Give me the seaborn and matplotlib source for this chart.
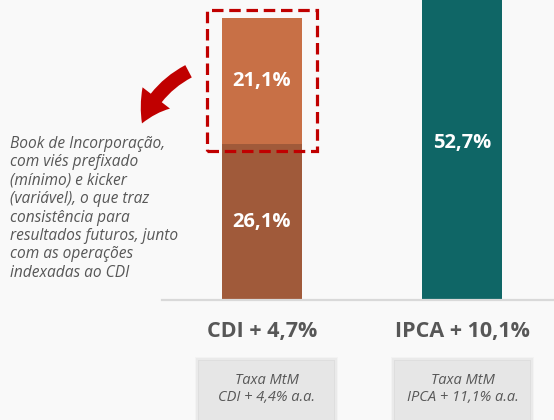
import matplotlib
matplotlib.use("Agg")
import matplotlib.pyplot as plt
import seaborn as sns
import pandas as pd
from matplotlib.patches import Rectangle, FancyArrowPatch

# Data
categories = ["CDI + 4,7%", "IPCA + 10,1%"]
base_share = [26.1, 52.7]       # lower segment / full bar
kicker_share = [21.1, 0.0]      # upper segment (CDI only)
mtm_labels = ["Taxa MtM\nCDI + 4,4% a.a.", "Taxa MtM\nIPCA + 11,1% a.a."]
note_text = ("Book de Incorporação,\ncom viés prefixado\n(mínimo) e kicker\n"
             "(variável), o que traz\nconsistência para\nresultados futuros, junto\n"
             "com as operações\nindexadas ao CDI")

BG = "#f9f9f9"
C_TOP = "#c87046"
C_LOW = "#a05a3a"
C_TEAL = "#0f6666"
TXT = "#575757"

sns.set_theme(style="white")
plt.rcParams["font.family"] = ["Open Sans", "DejaVu Sans"]

fig = plt.figure(figsize=(5.54, 4.2), dpi=100, facecolor=BG)
ax = fig.add_axes([162 / 554, 120 / 420, 1 - 162 / 554, 300 / 420])
ax.set_facecolor(BG)

totals = [b + k for b, k in zip(base_share, kicker_share)]
df_tot = pd.DataFrame({"cat": categories, "val": totals})
df_low = pd.DataFrame({"cat": categories, "val": base_share})

sns.barplot(data=df_tot, x="cat", y="val", hue="cat", palette=[C_TOP, C_TEAL],
            width=0.4, legend=False, ax=ax, saturation=1, linewidth=0)
sns.barplot(data=df_low, x="cat", y="val", hue="cat", palette=[C_LOW, C_TEAL],
            width=0.4, legend=False, ax=ax, saturation=1, linewidth=0)

ax.set_xlim(-0.5, 1.46)
ax.set_ylim(0, 50.2)
ax.set_xticks([])
ax.set_yticks([])
ax.set_xlabel("")
ax.set_ylabel("")
for s in ["top", "right", "left"]:
    ax.spines[s].set_visible(False)
ax.spines["bottom"].set_color("#d9d9d9")
ax.spines["bottom"].set_linewidth(1.6)

# Value labels inside bars
lbl = dict(color="white", fontsize=14.5, fontweight="bold", ha="center", va="center")
ax.text(0, base_share[0] / 2, f"{base_share[0]:.1f}%".replace(".", ","), **lbl)
ax.text(0, base_share[0] + kicker_share[0] / 2,
        f"{kicker_share[0]:.1f}%".replace(".", ","), **lbl)
ax.text(1, base_share[1] / 2, f"{base_share[1]:.1f}%".replace(".", ","), **lbl)

# Dashed highlight around the kicker segment
ax.add_patch(Rectangle((-0.275, base_share[0] - 1.2), 0.55, kicker_share[0] + 2.5,
                       fill=False, edgecolor="#c00000", linewidth=2.3,
                       linestyle=(0, (3.6, 1.8)), clip_on=False, zorder=5))

# Category labels
for i, c in enumerate(categories):
    fig.text((262 + 200 * i) / 554, 1 - 332 / 420, c, ha="center", va="center",
             fontsize=15.5, fontweight="bold", color=TXT)

# MtM rate boxes with soft shadow
for i, t in enumerate(mtm_labels):
    x0 = (199 + 196 * i) / 554
    w = 135 / 554
    y0 = -0.05
    h = 1 - 361 / 420 + 0.05
    for k, a in enumerate([0.025, 0.035, 0.05]):
        d = (3 - k) * 1.3
        fig.add_artist(Rectangle((x0 - d / 554, y0), w + 2 * d / 554, h + d / 420,
                                 facecolor="black", alpha=a, edgecolor="none",
                                 transform=fig.transFigure))
    fig.add_artist(Rectangle((x0, y0), w, h, facecolor="#e6e6e6", edgecolor="none",
                             transform=fig.transFigure))
    fig.text(x0 + w / 2, 1 - 389 / 420, t, ha="center", va="center", fontsize=10.5,
             style="italic", color=TXT, linespacing=1.2)

# Side note
fig.text(10 / 554, 1 - 136 / 420, note_text, ha="left", va="top", fontsize=11.2,
         style="italic", color=TXT, linespacing=1.2)

# Curved red arrow pointing to the note
arrow = FancyArrowPatch((191 / 554, 1 - 70 / 420), (141 / 554, 1 - 126 / 420),
                        transform=fig.transFigure,
                        connectionstyle="arc3,rad=0.2",
                        arrowstyle="simple,head_width=25,head_length=21,tail_width=10",
                        color="#c00000", linewidth=0, mutation_scale=1)
fig.add_artist(arrow)

fig.savefig("out.png", dpi=100, facecolor=BG)
